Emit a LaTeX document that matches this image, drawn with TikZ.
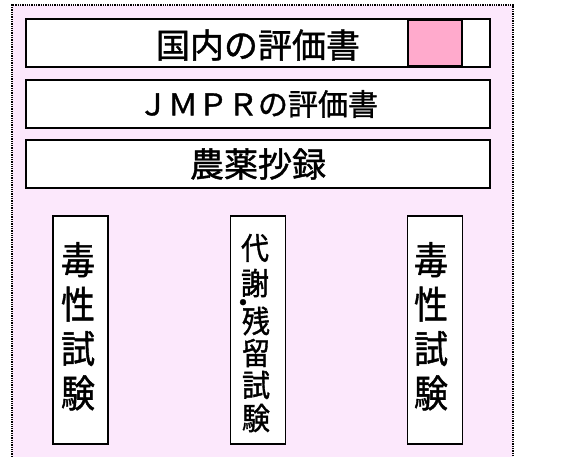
\documentclass[tikz,border=0pt]{standalone}
\usepackage{fontspec}
\usepackage{graphicx}
\newfontfamily\jp[RawFeature={embolden=1.2}]{Noto Sans CJK JP}
\definecolor{bgpink}{RGB}{252,232,252}
\definecolor{sqpink}{RGB}{255,170,204}
\newcommand{\vstack}[1]{\scalebox{1}[1.12]{\begin{tabular}{@{}c@{}}#1\end{tabular}}}
\begin{document}
\begin{tikzpicture}[x=1pt,y=-1pt,
  hbox/.style={draw=black, line width=1.5pt, fill=white, minimum width=464pt, minimum height=48pt, inner sep=0pt, font=\jp},
  vbox/.style={draw=black, line width=1.5pt, fill=white, minimum width=55pt, minimum height=228pt, inner sep=0pt},
  vtext/.style={align=center, inner sep=0pt, font=\jp\fontsize{34}{37}\selectfont},
  btext/.style={inner sep=0pt, font=\jp\fontsize{28}{28}\selectfont}]
\useasboundingbox (0,0) rectangle (579,457);
\fill[bgpink] (12,5) rectangle (513,457);
\draw[densely dotted, line width=1.3pt] (12,457) -- (12,5) -- (513,5) -- (513,457);
% horizontal bars
\node[hbox] (r1) at (258,43) {};
\node[draw=black, line width=1.5pt, fill=sqpink, minimum width=54pt, minimum height=46pt, inner sep=0pt] (sq) at (435,43) {};
\node[font=\jp\fontsize{34}{34}\selectfont, inner sep=0pt] (t1) at (258,45) {国内の評価書};
\node[hbox, font=\jp\fontsize{30}{30}\selectfont] (r2) at (258,104) {ＪＭＰＲの評価書};
\node[hbox, font=\jp\fontsize{34}{34}\selectfont] (r3) at (258,164) {農薬抄録};
% vertical boxes
\node[vbox] (va) at (80.5,330) {};
\node[vtext] (ta) at (78,331) {\vstack{毒\\性\\試\\験}};
\node[vbox] (vb) at (258,330) {};
\node[btext] (b1) at (255,248) {\scalebox{1}[1.1]{代}};
\node[btext] (b2) at (255,283) {\scalebox{1}[1.1]{謝}};
\node[inner sep=0pt, font=\jp\fontsize{28}{28}\selectfont] (bd) at (243,306) {・};
\node[btext] (b3) at (256,321) {\scalebox{1}[1.1]{残}};
\node[btext] (b4) at (256,353) {\scalebox{1}[1.1]{留}};
\node[btext] (b5) at (256,385) {\scalebox{1}[1.1]{試}};
\node[btext] (b6) at (256,418) {\scalebox{1}[1.1]{験}};
\node[vbox] (vc) at (435,330) {};
\node[vtext] (tc) at (431,331) {\vstack{毒\\性\\試\\験}};
\end{tikzpicture}
\end{document}
